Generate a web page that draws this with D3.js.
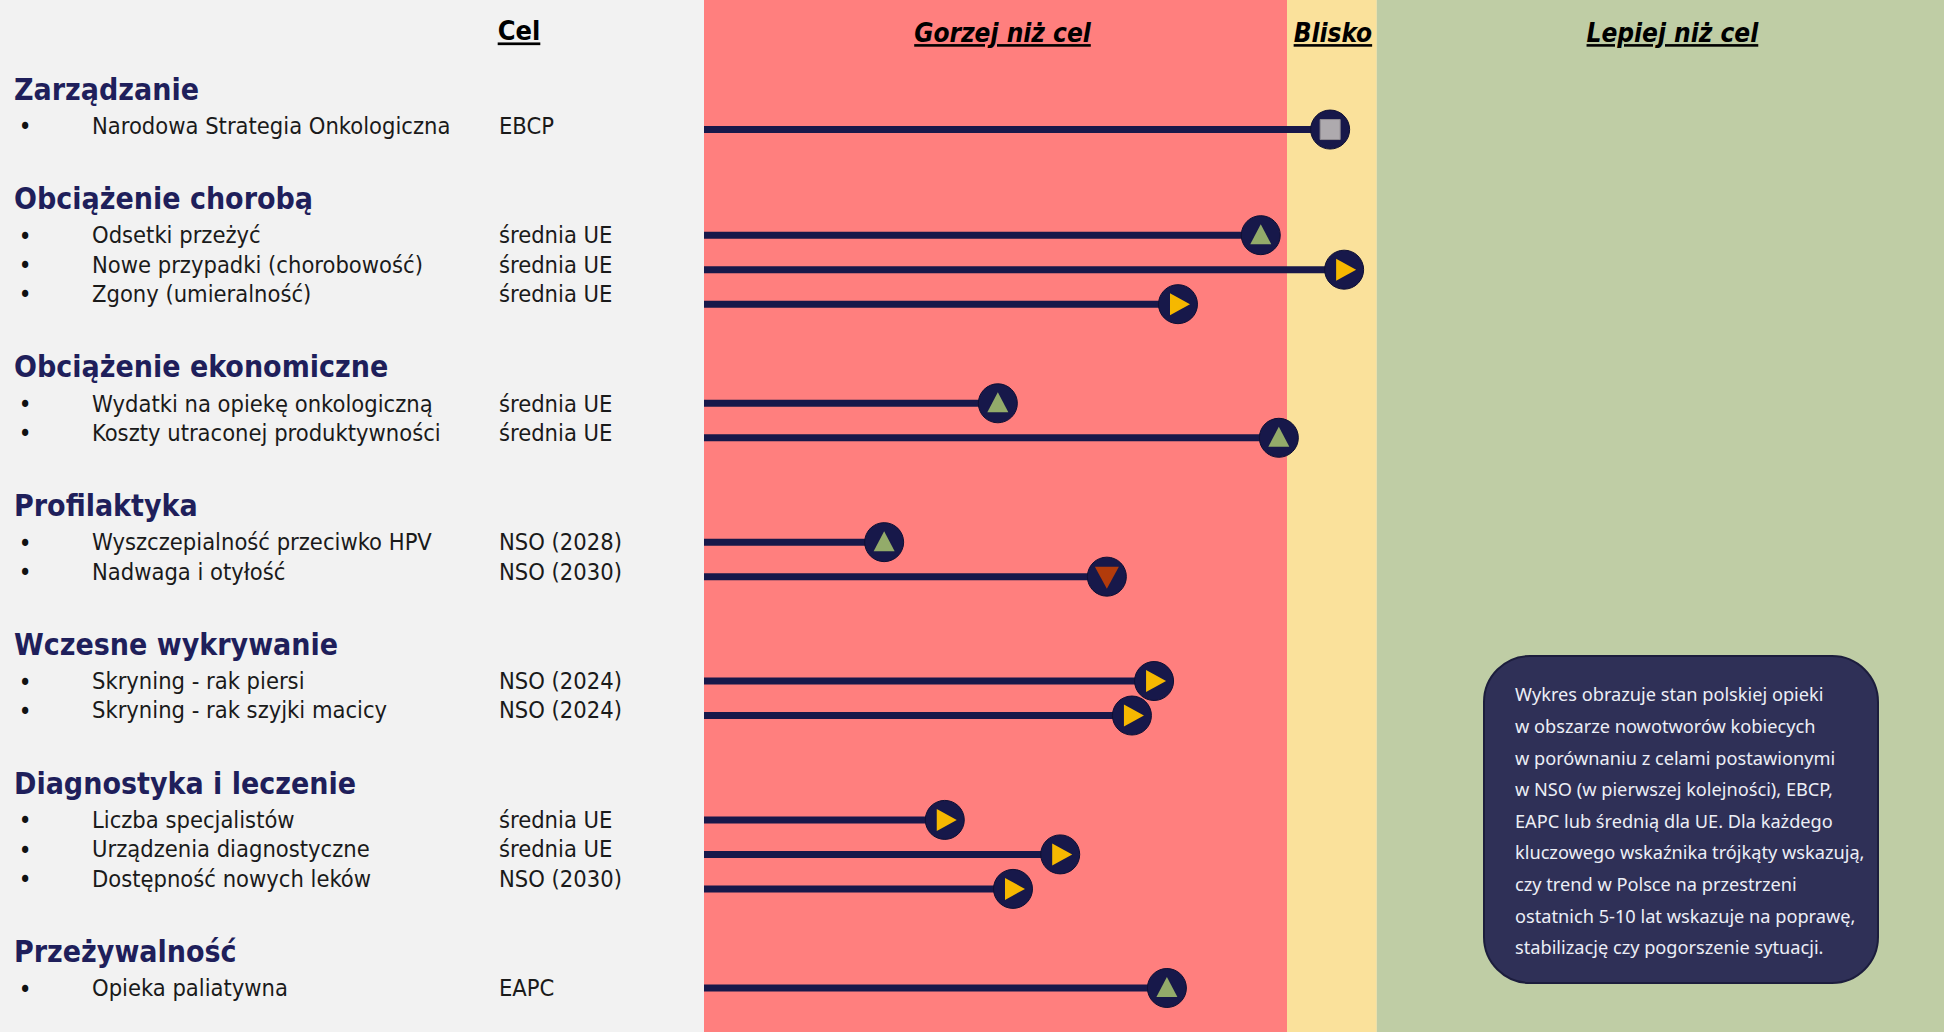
<!DOCTYPE html>
<html>
<head>
<meta charset="utf-8">
<script src="https://cdn.jsdelivr.net/npm/d3@7"></script>
<style>
  html, body { margin: 0; padding: 0; background: #f2f2f2; }
  #vis1 { width: 1944px; height: 1032px; }
  text { font-family: "DejaVu Sans Condensed", "DejaVu Sans", sans-serif; font-stretch: condensed; }
</style>
</head>
<body>
<div id="vis1"></div>
<script>
var groups = ["Zarządzanie", "Obciążenie chorobą", "Obciążenie ekonomiczne", "Profilaktyka",
              "Wczesne wykrywanie", "Diagnostyka i leczenie", "Przeżywalność"];

var indicators = ["Narodowa Strategia Onkologiczna",
                  "Odsetki przeżyć", "Nowe przypadki (chorobowość)", "Zgony (umieralność)",
                  "Wydatki na opiekę onkologiczną", "Koszty utraconej produktywności",
                  "Wyszczepialność przeciwko HPV", "Nadwaga i otyłość",
                  "Skryning - rak piersi", "Skryning - rak szyjki macicy",
                  "Liczba specjalistów", "Urządzenia diagnostyczne", "Dostępność nowych leków",
                  "Opieka paliatywna"];
var indicatorGroup = [0, 1, 1, 1, 2, 2, 3, 3, 4, 4, 5, 5, 5, 6];
var targets = ["EBCP", "średnia UE", "średnia UE", "średnia UE", "średnia UE", "średnia UE",
               "NSO (2028)", "NSO (2030)", "NSO (2024)", "NSO (2024)",
               "średnia UE", "średnia UE", "NSO (2030)", "EAPC"];
// pozycja względem celu (100 = próg "Blisko")
var scores = [107.4, 95.5, 109.8, 81.3, 50.4, 98.6, 30.9, 69.1, 77.2, 73.4, 41.3, 61.1, 53.0, 79.4];
// up = poprawa, flat = stabilizacja, down = pogorszenie, na = brak trendu
var trends = ["na", "up", "flat", "flat", "up", "up", "up", "down", "flat", "flat",
              "flat", "flat", "flat", "up"];

var targetHeader = "Cel";
var zoneNames = ["Gorzej niż cel", "Blisko", "Lepiej niż cel"];
var zoneEdges = [0, 100, 115.4, 212.7];
var zoneColors = ["#ff7f7e", "#fae19b", "#bfcda5"];

var noteLines = ["Wykres obrazuje stan polskiej opieki",
                 "w obszarze nowotworów kobiecych",
                 "w porównaniu z celami postawionymi",
                 "w NSO (w pierwszej kolejności), EBCP,",
                 "EAPC lub średnią dla UE. Dla każdego",
                 "kluczowego wskaźnika trójkąty wskazują,",
                 "czy trend w Polsce na przestrzeni",
                 "ostatnich 5-10 lat wskazuje na poprawę,",
                 "stabilizację czy pogorszenie sytuacji."];

var navy = "#17184a";
var trendColors = { up: "#93ab6a", flat: "#f6b800", down: "#b23b0b", na: "#aeaaae" };

gen_vis();

function gen_vis()
{
	var w = 1944;
	var h = 1032;

	var svg = d3.select("#vis1")
		.append("svg")
		.attr("width", w)
		.attr("height", h);

	var x = d3.scaleLinear().domain([0, 100]).range([704, 1287]);

	// rozkład wierszy: nagłówek grupy, potem pozycje, odstęp po grupie
	var slot = 0, headSlots = [], textSlots = [], lineSlots = [];
	groups.forEach(function(g, gi){
		headSlots.push(slot);
		slot += 1.25;
		var first = slot, k = 0;
		indicatorGroup.forEach(function(ig, i){
			if (ig !== gi) return;
			textSlots[i] = slot;
			lineSlots[i] = first + k * 1.18;
			slot += 1;
			k++;
		});
		slot += 1.5;
	});
	var y = d3.scaleLinear().domain([0, 30.75]).range([89, 988]);

	svg.append("rect")
		.attr("width", w).attr("height", h)
		.attr("fill", "#f2f2f2");

	svg.selectAll(".zone")
		.data(zoneNames)
		.enter()
		.append("rect")
		.attr("class", "zone")
		.attr("x", function(d, i){ return x(zoneEdges[i]); })
		.attr("y", 0)
		.attr("width", function(d, i){ return x(zoneEdges[i + 1]) - x(zoneEdges[i]); })
		.attr("height", h)
		.attr("fill", function(d, i){ return zoneColors[i]; });

	svg.selectAll(".zoneLabel")
		.data(zoneNames)
		.enter()
		.append("text")
		.attr("class", "zoneLabel")
		.attr("x", function(d, i){ return (x(zoneEdges[i]) + x(zoneEdges[i + 1])) / 2; })
		.attr("dx", function(d, i){ return [7, 1, 12][i]; })
		.attr("y", 33)
		.attr("dy", "0.35em")
		.attr("text-anchor", "middle")
		.attr("font-size", 26)
		.attr("font-weight", "bold")
		.attr("font-style", "italic")
		.style("text-decoration", "underline")
		.attr("fill", "#000")
		.text(function(d){ return d; });

	svg.append("text")
		.attr("x", 519)
		.attr("y", 31)
		.attr("dy", "0.35em")
		.attr("text-anchor", "middle")
		.attr("font-size", 27)
		.attr("font-weight", "bold")
		.style("text-decoration", "underline")
		.attr("fill", "#000")
		.text(targetHeader);

	svg.selectAll(".groupLabel")
		.data(groups)
		.enter()
		.append("text")
		.attr("class", "groupLabel")
		.attr("x", 14)
		.attr("y", function(d, i){ return y(headSlots[i]); })
		.attr("dy", "0.35em")
		.attr("font-size", 30)
		.attr("font-weight", "bold")
		.attr("fill", "#1f1f5b")
		.text(function(d){ return d; });

	var rows = svg.selectAll(".row")
		.data(indicators)
		.enter()
		.append("g")
		.attr("class", "row");

	rows.append("text")
		.attr("x", 25)
		.attr("y", function(d, i){ return y(textSlots[i]); })
		.attr("dy", "0.4em")
		.attr("text-anchor", "middle")
		.attr("font-size", 24)
		.attr("fill", "#111")
		.text("•");

	rows.append("text")
		.attr("x", 92)
		.attr("y", function(d, i){ return y(textSlots[i]); })
		.attr("dy", "0.35em")
		.attr("font-size", 23.5)
		.attr("fill", "#1a1a1a")
		.text(function(d){ return d; });

	rows.append("text")
		.attr("x", 499)
		.attr("y", function(d, i){ return y(textSlots[i]); })
		.attr("dy", "0.35em")
		.attr("font-size", 23.5)
		.attr("fill", "#1a1a1a")
		.text(function(d, i){ return targets[i]; });

	rows.append("line")
		.attr("x1", x(0))
		.attr("x2", function(d, i){ return x(scores[i]); })
		.attr("y1", function(d, i){ return y(lineSlots[i]) + (i === 0 ? 4 : 0); })
		.attr("y2", function(d, i){ return y(lineSlots[i]) + (i === 0 ? 4 : 0); })
		.attr("stroke", navy)
		.attr("stroke-width", 7);

	rows.append("circle")
		.attr("cx", function(d, i){ return x(scores[i]); })
		.attr("cy", function(d, i){ return y(lineSlots[i]) + (i === 0 ? 4 : 0); })
		.attr("r", 19.5)
		.attr("fill", navy)
		.attr("stroke", "#0e0f33")
		.attr("stroke-width", 1);

	rows.append("path")
		.attr("transform", function(d, i){ return "translate(" + x(scores[i]) + "," + (y(lineSlots[i]) + (i === 0 ? 4 : 0)) + ")"; })
		.attr("d", function(d, i){ return glyph(trends[i]); })
		.attr("fill", function(d, i){ return trendColors[trends[i]]; })
		.attr("stroke", function(d, i){ return trends[i] === "na" ? "#8f8b90" : "none"; })
		.attr("stroke-width", 1);

	// ramka z opisem
	var note = svg.append("g").attr("transform", "translate(1484,656)");
	note.append("rect")
		.attr("width", 394)
		.attr("height", 327)
		.attr("rx", 46)
		.attr("fill", "#2f3057")
		.attr("stroke", "#1c1d3d")
		.attr("stroke-width", 2);
	note.selectAll("text")
		.data(noteLines)
		.enter()
		.append("text")
		.attr("x", 31)
		.attr("y", function(d, i){ return 39 + i * 31.6; })
		.attr("dy", "0.35em")
		.attr("font-size", 18.2)
		.style("font-family", "'Noto Sans', 'Open Sans', sans-serif")
		.style("font-stretch", "normal")
		.attr("fill", "#eceef6")
		.text(function(d){ return d; });
}

function glyph(t)
{
	if (t === "up") return "M0,-11L10.5,9L-10.5,9Z";
	if (t === "down") return "M-12,-10L12,-10L0,12Z";
	if (t === "flat") return "M-8,-11L12,0L-8,11Z";
	return "M-10,-10H10V10H-10Z";
}
</script>
</body>
</html>
